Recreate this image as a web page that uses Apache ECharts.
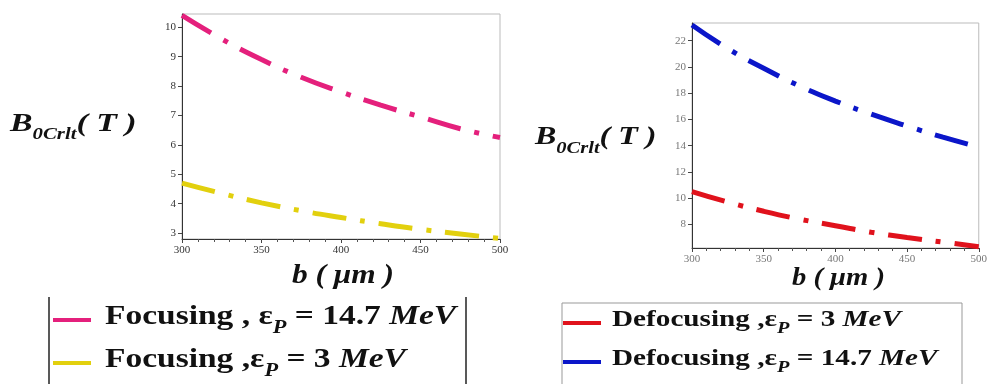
<!DOCTYPE html>
<html><head><meta charset="utf-8">
<script src="https://cdn.jsdelivr.net/npm/echarts@6/dist/echarts.min.js"></script>
<style>html,body{margin:0;padding:0;background:#fff}#c{width:990px;height:384px}</style>
</head><body><div id="c"></div>
<script>
// ---- data ----
const bValues = [300, 325, 350, 375, 400, 425, 450, 475, 500];
const focusing147 = [10.4, 9.6, 8.9, 8.3, 7.8, 7.35, 6.95, 6.55, 6.25];
const focusing3 = [4.7, 4.35, 4.03, 3.76, 3.53, 3.32, 3.13, 2.97, 2.82];
const defocusing3 = [10.5, 9.7, 9.0, 8.4, 7.9, 7.4, 7.0, 6.65, 6.3];
const defocusing147 = [23.2, 21.4, 19.9, 18.55, 17.4, 16.4, 15.5, 14.65, 13.9];
const xTicks = [300, 350, 400, 450, 500];
const yTicksLeft = [3, 4, 5, 6, 7, 8, 9, 10];
const yTicksRight = [8, 10, 12, 14, 16, 18, 20, 22];
const seriesNames = ['Focusing , εp = 14.7 MeV', 'Focusing ,εp = 3 MeV', 'Defocusing ,εp = 3 MeV', 'Defocusing ,εp = 14.7 MeV'];
const legendTexts = [
  '{b|Focusing , ε}{s|P}{b| = 14.7 }{i|MeV}',
  '{b|Focusing ,ε}{s|P}{b| = 3 }{i|MeV}',
  '{b|Defocusing ,ε}{s|P}{b| = 3 }{i|MeV}',
  '{b|Defocusing ,ε}{s|P}{b| = 14.7 }{i|MeV}'
];
const colors = ['#e4207c', '#e2d00e', '#e0121c', '#0b16c9'];
const pairs = ys => bValues.map((b, i) => [b, ys[i]]);

const serif = '"Liberation Serif", "DejaVu Serif", serif';
const dash = [34, 14, 5, 14];
const chart = echarts.init(document.getElementById('c'), null, {renderer: 'canvas'});

function richStyle(size, subPad) {
  return {
    b: {fontFamily: serif, fontWeight: 'bold', fontSize: size, fill: '#111'},
    i: {fontFamily: serif, fontWeight: 'bold', fontStyle: 'italic', fontSize: size, fill: '#111'},
    s: {fontFamily: serif, fontWeight: 'bold', fontStyle: 'italic', fontSize: Math.round(size * 0.68), fill: '#111', padding: [subPad, 0, 0, 0]}
  };
}

function xAxisCfg(idx) {
  return {
    type: 'value', gridIndex: idx, min: 300, max: 500, interval: 50,
    axisLine: {show: true, lineStyle: {color: '#333', width: 1}},
    axisTick: {show: true, length: 4, lineStyle: {color: '#444'}},
    minorTick: {show: true, splitNumber: 5, length: 3, lineStyle: {color: '#555'}},
    axisLabel: {fontFamily: serif, fontSize: 11, color: idx ? '#777' : '#333', margin: 6},
    splitLine: {show: false}
  };
}
function yAxisCfg(idx, min, max, ticks) {
  return {
    type: 'value', gridIndex: idx, min: min, max: max,
    axisLine: {show: true, lineStyle: {color: '#333', width: 1}},
    axisTick: {show: true, length: 4, customValues: ticks, lineStyle: {color: '#444'}},
    axisLabel: {fontFamily: serif, fontSize: 11, color: idx ? '#777' : '#333', margin: 6, customValues: ticks},
    splitLine: {show: false}
  };
}
function lineSeries(k, xi, data) {
  return {
    name: seriesNames[k], type: 'line', xAxisIndex: xi, yAxisIndex: xi, data: pairs(data),
    smooth: true, showSymbol: false, symbol: 'none',
    lineStyle: {color: colors[k], width: 5, type: dash},
    itemStyle: {color: colors[k]}
  };
}
function legendItem(k, sx, sy, tx, size, sc) {
  return [
    {type: 'rect', shape: {x: sx, y: sy - 2, width: 38, height: 4}, style: {fill: colors[k]}},
    {type: 'text', x: tx, y: sy - 3, scaleX: sc, style: {text: legendTexts[k], rich: richStyle(size, Math.round(size * 0.8)), verticalAlign: 'middle', align: 'left'}}
  ];
}
function titleText(x, y, size, sc) {
  return {type: 'text', x: x, y: y, scaleX: sc, style: {verticalAlign: 'middle', align: 'left', rich: {
    B: {fontFamily: serif, fontWeight: 'bold', fontStyle: 'italic', fontSize: size, fill: '#111'},
    s: {fontFamily: serif, fontWeight: 'bold', fontStyle: 'italic', fontSize: Math.round(size * 0.62), fill: '#111', padding: [Math.round(size * 0.85), 0, 0, 0]},
    p: {fontFamily: serif, fontWeight: 'bold', fontStyle: 'italic', fontSize: size, fill: '#111'}
  }, text: '{B|B}{s|0Crlt}{p|( T )}'}};
}

const option = {
  animation: false,
  backgroundColor: '#fff',
  grid: [
    {left: 182, right: 490, top: 14, bottom: 145, show: true, borderColor: '#bbb', borderWidth: 1},
    {left: 692, right: 7, top: 23, bottom: 136, show: true, borderColor: '#bbb', borderWidth: 1}
  ],
  xAxis: [xAxisCfg(0), xAxisCfg(1)],
  yAxis: [yAxisCfg(0, 2.8, 10.45, yTicksLeft), yAxisCfg(1, 6.2, 23.35, yTicksRight)],
  series: [
    lineSeries(0, 0, focusing147),
    lineSeries(1, 0, focusing3),
    lineSeries(2, 1, defocusing3),
    lineSeries(3, 1, defocusing147)
  ],
  graphic: [
    titleText(10, 124, 26, 1.3),
    titleText(535, 138, 25, 1.28),
    {type: 'text', x: 292, y: 276, scaleX: 1.12, style: {text: 'b ( μm )', font: 'italic bold 28px ' + serif, fill: '#111', verticalAlign: 'middle'}},
    {type: 'text', x: 792, y: 278, scaleX: 1.1, style: {text: 'b ( μm )', font: 'italic bold 26px ' + serif, fill: '#111', verticalAlign: 'middle'}},
    {type: 'line', shape: {x1: 49, y1: 297, x2: 49, y2: 384}, style: {stroke: '#222', lineWidth: 1.5}},
    {type: 'line', shape: {x1: 466, y1: 297, x2: 466, y2: 384}, style: {stroke: '#222', lineWidth: 1.5}},
    {type: 'rect', shape: {x: 562, y: 303, width: 400, height: 90}, style: {fill: 'none', stroke: '#999', lineWidth: 1}}
  ]
    .concat(legendItem(0, 53, 320, 105, 27, 1.24))
    .concat(legendItem(1, 53, 363, 105, 27, 1.24))
    .concat(legendItem(2, 563, 323, 612, 23, 1.27))
    .concat(legendItem(3, 563, 362, 612, 23, 1.27))
};
chart.setOption(option);
</script></body></html>
